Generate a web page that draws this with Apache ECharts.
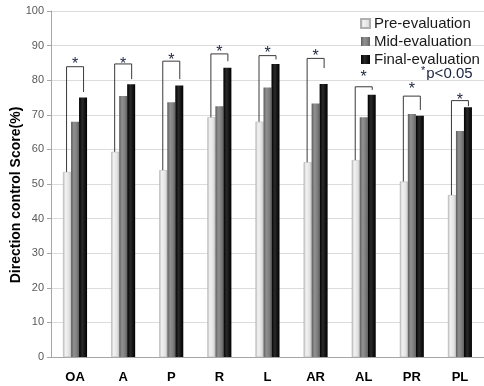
<!DOCTYPE html>
<html>
<head>
<meta charset="utf-8">
<script src="https://cdn.jsdelivr.net/npm/echarts@6/dist/echarts.min.js"></script>
<style>html,body{margin:0;padding:0;background:#fff}#c{width:484px;height:386px}</style>
</head>
<body>
<div id="c"></div>
<script>
const categories = ['OA','A','P','R','L','AR','AL','PR','PL'];
const preEval   = [53.5, 59.3, 54.0, 69.3, 68.0, 56.3, 56.9, 50.7, 46.8];
const midEval   = [68.0, 75.4, 73.6, 72.5, 77.9, 73.3, 69.3, 70.2, 65.3];
const finalEval = [75.0, 78.8, 78.5, 83.6, 84.7, 78.9, 75.8, 69.7, 72.2];
// significance brackets (axis units): bracket top, right-leg end, star position
const bracketTop   = [83.9, 84.7, 85.5, 87.6, 87.1, 86.3, 78.1, 75.4, 74.1];
const bracketRight = [76.6, 80.3, 80.3, 85.5, 86.0, 83.5, 77.2, 71.4, 72.5];
const starPos      = [86.1, 86.1, 87.0, 89.3, 89.0, 88.2, 82.2, 78.6, 75.5];
const yTicks = [0,10,20,30,40,50,60,70,80,90,100];

const FONT = 'Liberation Sans';
function grad(stops){
  return new echarts.graphic.LinearGradient(0,0,1,0, stops.map((c,i)=>({offset:c[0],color:c[1]})));
}
const preColor = grad([[0,'#b8b8b8'],[0.3,'#f2f2f2'],[0.7,'#e4e4e4'],[1,'#c8c8c8']]);
const midColor = grad([[0,'#5c5c5c'],[0.35,'#909090'],[0.7,'#808080'],[1,'#606060']]);
const finColor = grad([[0,'#000'],[0.4,'#2a2a2a'],[1,'#000']]);

const bracketData = categories.map((c,i)=>[i, bracketTop[i], bracketRight[i], preEval[i], starPos[i]]);

const chart = echarts.init(document.getElementById('c'), null, {renderer:'canvas'});
chart.setOption({
  animation:false,
  textStyle:{fontFamily:FONT},
  grid:{left:51, right:-3, top:11, bottom:29, containLabel:false},
  legend:{
    orient:'vertical', left:355, top:11, itemWidth:9, itemHeight:9, itemGap:3,
    icon:'rect',
    textStyle:{fontFamily:FONT, fontSize:15, color:'#1a1a1a', padding:[0,0,0,-1]},
    data:['Pre-evaluation','Mid-evaluation','Final-evaluation']
  },
  xAxis:{
    type:'category', data:categories,
    axisLine:{show:true, lineStyle:{color:'#a6a6a6'}},
    axisTick:{show:false},
    axisLabel:{fontFamily:FONT, fontWeight:'bold', fontSize:13, color:'#000', margin:14}
  },
  yAxis:{
    type:'value', min:0, max:100, interval:10,
    axisLine:{show:true, lineStyle:{color:'#a6a6a6'}},
    axisTick:{show:true, length:4, lineStyle:{color:'#a6a6a6'}},
    axisLabel:{fontFamily:FONT, fontSize:11, color:'#595959', margin:7,
      formatter:v=> yTicks.indexOf(v)>=0 ? String(v) : ''},
    splitLine:{show:true, lineStyle:{color:'#dcdcdc'}}
  },
  graphic:[
    {type:'text', x:16, y:195, rotation:Math.PI/2,
     style:{text:'Direction control Score(%)', fontFamily:FONT, fontWeight:'bold', fontSize:14, fill:'#000', align:'center', verticalAlign:'middle'}},
    {type:'text', x:421, y:74,
     style:{text:'{s|*}p<0.05', fontFamily:FONT, fontSize:15, fill:'#1a2440', verticalAlign:'middle',
       rich:{s:{fontSize:11, fill:'#1a2440', verticalAlign:'top', padding:[0,1,7,0]}}}}
  ],
  series:[
    {name:'Pre-evaluation', type:'bar', data:preEval, barWidth:8, barGap:'0%', itemStyle:{color:preColor, borderColor:'#b0b0b0', borderWidth:0.5}},
    {name:'Mid-evaluation', type:'bar', data:midEval, barWidth:8, barGap:'0%', itemStyle:{color:midColor}},
    {name:'Final-evaluation', type:'bar', data:finalEval, barWidth:8, barGap:'0%', itemStyle:{color:finColor}},
    {name:'sig', type:'custom', data:bracketData, z:10,
     renderItem:function(params, api){
       const i = api.value(0);
       const cx = api.coord([i,0])[0];
       const yTop = api.coord([i, api.value(1)])[1];
       const yR = api.coord([i, api.value(2)])[1];
       const yL = api.coord([i, api.value(3)])[1];
       const yS = api.coord([i, api.value(4)])[1];
       const xl = cx - 8.5, xr = cx + 8.5;
       return {type:'group', children:[
         {type:'polyline', shape:{points:[[xl,yL],[xl,yTop],[xr,yTop],[xr,yR]]},
          style:{stroke:'#3a3a3a', lineWidth:1, fill:null}},
         {type:'text', x:cx, y:yS+5,
          style:{text:'*', fontFamily:FONT, fontSize:16, fill:'#1c2540', align:'center', verticalAlign:'middle'}}
       ]};
     }}
  ]
});
</script>
</body>
</html>
